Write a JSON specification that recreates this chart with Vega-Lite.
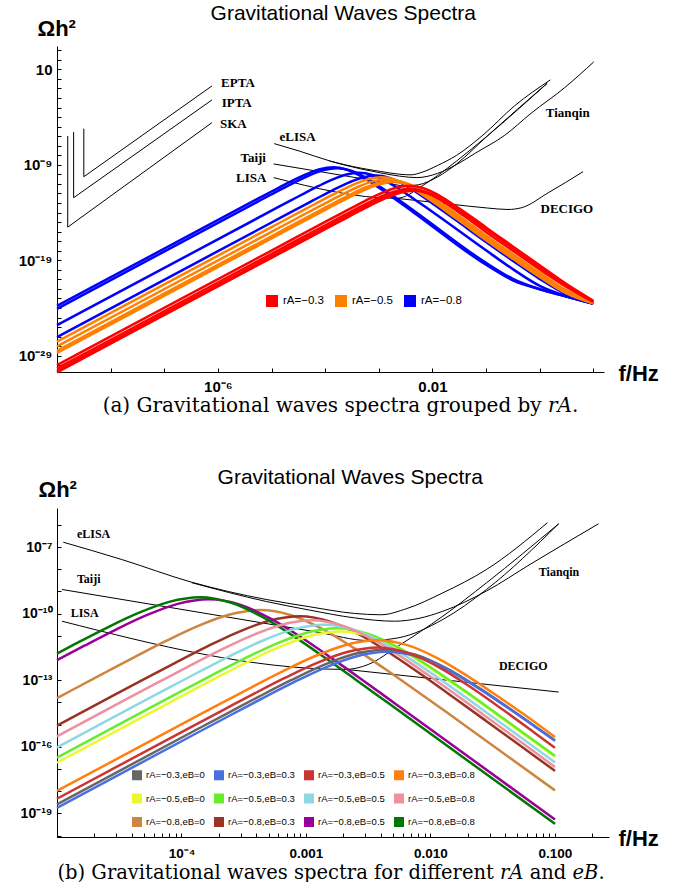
{
  "$schema": "https://vega.github.io/schema/vega-lite/v6.json",
  "background": "white",
  "padding": {"left": 18, "top": 3, "right": 0, "bottom": 0},
  "bounds": "flush",
  "spacing": 462,
  "resolve": {"scale": {"color": "independent"}, "legend": {"color": "independent"}},
  "config": {
    "view": {"stroke": null},
    "axis": {"grid": false, "domainColor": "black", "domainWidth": 1, "tickColor": "black", "tickWidth": 1, "labelColor": "black", "titleColor": "black", "labelFont": "Liberation Sans", "labelFontWeight": "bold", "titleFont": "Liberation Sans", "titleFontWeight": "bold", "titleFontSize": 22, "labelOverlap": false, "labelFlush": false},
    "title": {"font": "Liberation Sans", "fontWeight": "normal", "fontSize": 21, "color": "black"},
    "legend": {"title": null, "orient": "none", "direction": "horizontal", "symbolType": "square", "labelFont": "Liberation Sans", "labelColor": "black", "padding": 0, "symbolOpacity": 1}
  },
  "datasets": {
    "curves": [
      {"curve": "rA=−0.8,eB=0", "group": "rA=−0.8", "lf": -9, "lo": -25.806},
      {"curve": "rA=−0.8,eB=0", "group": "rA=−0.8", "lf": -5, "lo": -13.806},
      {"curve": "rA=−0.8,eB=0", "group": "rA=−0.8", "lf": -4.87, "lo": -13.416},
      {"curve": "rA=−0.8,eB=0", "group": "rA=−0.8", "lf": -4.62, "lo": -12.673},
      {"curve": "rA=−0.8,eB=0", "group": "rA=−0.8", "lf": -4.37, "lo": -11.934},
      {"curve": "rA=−0.8,eB=0", "group": "rA=−0.8", "lf": -4.12, "lo": -11.217},
      {"curve": "rA=−0.8,eB=0", "group": "rA=−0.8", "lf": -3.87, "lo": -10.559},
      {"curve": "rA=−0.8,eB=0", "group": "rA=−0.8", "lf": -3.62, "lo": -10.048},
      {"curve": "rA=−0.8,eB=0", "group": "rA=−0.8", "lf": -3.37, "lo": -9.84},
      {"curve": "rA=−0.8,eB=0", "group": "rA=−0.8", "lf": -3.12, "lo": -10.068},
      {"curve": "rA=−0.8,eB=0", "group": "rA=−0.8", "lf": -2.87, "lo": -10.686},
      {"curve": "rA=−0.8,eB=0", "group": "rA=−0.8", "lf": -2.62, "lo": -11.531},
      {"curve": "rA=−0.8,eB=0", "group": "rA=−0.8", "lf": -2.37, "lo": -12.473},
      {"curve": "rA=−0.8,eB=0", "group": "rA=−0.8", "lf": -2.12, "lo": -13.452},
      {"curve": "rA=−0.8,eB=0", "group": "rA=−0.8", "lf": -1.87, "lo": -14.442},
      {"curve": "rA=−0.8,eB=0", "group": "rA=−0.8", "lf": -1, "lo": -17.96},
      {"curve": "rA=−0.8,eB=0", "group": "rA=−0.8", "lf": -0.5, "lo": -19.93},
      {"curve": "rA=−0.8,eB=0", "group": "rA=−0.8", "lf": 0, "lo": -21.68},
      {"curve": "rA=−0.8,eB=0", "group": "rA=−0.8", "lf": 0.5, "lo": -22.768},
      {"curve": "rA=−0.8,eB=0", "group": "rA=−0.8", "lf": 1, "lo": -23.548},

      {"curve": "rA=−0.8,eB=0.3", "group": "rA=−0.8", "lf": -9, "lo": -27.046},
      {"curve": "rA=−0.8,eB=0.3", "group": "rA=−0.8", "lf": -5, "lo": -15.046},
      {"curve": "rA=−0.8,eB=0.3", "group": "rA=−0.8", "lf": -4.55, "lo": -13.696},
      {"curve": "rA=−0.8,eB=0.3", "group": "rA=−0.8", "lf": -4.3, "lo": -12.953},
      {"curve": "rA=−0.8,eB=0.3", "group": "rA=−0.8", "lf": -4.05, "lo": -12.214},
      {"curve": "rA=−0.8,eB=0.3", "group": "rA=−0.8", "lf": -3.8, "lo": -11.497},
      {"curve": "rA=−0.8,eB=0.3", "group": "rA=−0.8", "lf": -3.55, "lo": -10.839},
      {"curve": "rA=−0.8,eB=0.3", "group": "rA=−0.8", "lf": -3.3, "lo": -10.328},
      {"curve": "rA=−0.8,eB=0.3", "group": "rA=−0.8", "lf": -3.05, "lo": -10.12},
      {"curve": "rA=−0.8,eB=0.3", "group": "rA=−0.8", "lf": -2.8, "lo": -10.368},
      {"curve": "rA=−0.8,eB=0.3", "group": "rA=−0.8", "lf": -2.55, "lo": -11.006},
      {"curve": "rA=−0.8,eB=0.3", "group": "rA=−0.8", "lf": -2.3, "lo": -11.871},
      {"curve": "rA=−0.8,eB=0.3", "group": "rA=−0.8", "lf": -2.05, "lo": -12.833},
      {"curve": "rA=−0.8,eB=0.3", "group": "rA=−0.8", "lf": -1.8, "lo": -13.832},
      {"curve": "rA=−0.8,eB=0.3", "group": "rA=−0.8", "lf": -1.55, "lo": -14.842},
      {"curve": "rA=−0.8,eB=0.3", "group": "rA=−0.8", "lf": -1, "lo": -17.082},
      {"curve": "rA=−0.8,eB=0.3", "group": "rA=−0.8", "lf": -0.5, "lo": -19.05},
      {"curve": "rA=−0.8,eB=0.3", "group": "rA=−0.8", "lf": 0, "lo": -20.95},
      {"curve": "rA=−0.8,eB=0.3", "group": "rA=−0.8", "lf": 0.5, "lo": -22.58},
      {"curve": "rA=−0.8,eB=0.3", "group": "rA=−0.8", "lf": 1, "lo": -23.532},

      {"curve": "rA=−0.8,eB=0.5", "group": "rA=−0.8", "lf": -9, "lo": -24.086},
      {"curve": "rA=−0.8,eB=0.5", "group": "rA=−0.8", "lf": -5.28, "lo": -12.926},
      {"curve": "rA=−0.8,eB=0.5", "group": "rA=−0.8", "lf": -5.03, "lo": -12.183},
      {"curve": "rA=−0.8,eB=0.5", "group": "rA=−0.8", "lf": -5, "lo": -12.094},
      {"curve": "rA=−0.8,eB=0.5", "group": "rA=−0.8", "lf": -4.78, "lo": -11.444},
      {"curve": "rA=−0.8,eB=0.5", "group": "rA=−0.8", "lf": -4.53, "lo": -10.727},
      {"curve": "rA=−0.8,eB=0.5", "group": "rA=−0.8", "lf": -4.28, "lo": -10.069},
      {"curve": "rA=−0.8,eB=0.5", "group": "rA=−0.8", "lf": -4.03, "lo": -9.558},
      {"curve": "rA=−0.8,eB=0.5", "group": "rA=−0.8", "lf": -3.78, "lo": -9.35},
      {"curve": "rA=−0.8,eB=0.5", "group": "rA=−0.8", "lf": -3.53, "lo": -9.597},
      {"curve": "rA=−0.8,eB=0.5", "group": "rA=−0.8", "lf": -3.28, "lo": -10.234},
      {"curve": "rA=−0.8,eB=0.5", "group": "rA=−0.8", "lf": -3.03, "lo": -11.098},
      {"curve": "rA=−0.8,eB=0.5", "group": "rA=−0.8", "lf": -2.78, "lo": -12.059},
      {"curve": "rA=−0.8,eB=0.5", "group": "rA=−0.8", "lf": -2.53, "lo": -13.056},
      {"curve": "rA=−0.8,eB=0.5", "group": "rA=−0.8", "lf": -2.28, "lo": -14.065},
      {"curve": "rA=−0.8,eB=0.5", "group": "rA=−0.8", "lf": -1, "lo": -19.27},
      {"curve": "rA=−0.8,eB=0.5", "group": "rA=−0.8", "lf": -0.5, "lo": -20.95},
      {"curve": "rA=−0.8,eB=0.5", "group": "rA=−0.8", "lf": 0, "lo": -22.03},
      {"curve": "rA=−0.8,eB=0.5", "group": "rA=−0.8", "lf": 0.5, "lo": -22.798},
      {"curve": "rA=−0.8,eB=0.5", "group": "rA=−0.8", "lf": 1, "lo": -23.55},

      {"curve": "rA=−0.8,eB=0.8", "group": "rA=−0.8", "lf": -9, "lo": -23.786},
      {"curve": "rA=−0.8,eB=0.8", "group": "rA=−0.8", "lf": -5.35, "lo": -12.836},
      {"curve": "rA=−0.8,eB=0.8", "group": "rA=−0.8", "lf": -5.1, "lo": -12.093},
      {"curve": "rA=−0.8,eB=0.8", "group": "rA=−0.8", "lf": -5, "lo": -11.796},
      {"curve": "rA=−0.8,eB=0.8", "group": "rA=−0.8", "lf": -4.85, "lo": -11.354},
      {"curve": "rA=−0.8,eB=0.8", "group": "rA=−0.8", "lf": -4.6, "lo": -10.637},
      {"curve": "rA=−0.8,eB=0.8", "group": "rA=−0.8", "lf": -4.35, "lo": -9.979},
      {"curve": "rA=−0.8,eB=0.8", "group": "rA=−0.8", "lf": -4.1, "lo": -9.468},
      {"curve": "rA=−0.8,eB=0.8", "group": "rA=−0.8", "lf": -3.85, "lo": -9.26},
      {"curve": "rA=−0.8,eB=0.8", "group": "rA=−0.8", "lf": -3.6, "lo": -9.508},
      {"curve": "rA=−0.8,eB=0.8", "group": "rA=−0.8", "lf": -3.35, "lo": -10.146},
      {"curve": "rA=−0.8,eB=0.8", "group": "rA=−0.8", "lf": -3.1, "lo": -11.011},
      {"curve": "rA=−0.8,eB=0.8", "group": "rA=−0.8", "lf": -2.85, "lo": -11.974},
      {"curve": "rA=−0.8,eB=0.8", "group": "rA=−0.8", "lf": -2.6, "lo": -12.973},
      {"curve": "rA=−0.8,eB=0.8", "group": "rA=−0.8", "lf": -2.35, "lo": -13.983},
      {"curve": "rA=−0.8,eB=0.8", "group": "rA=−0.8", "lf": -1, "lo": -19.47},
      {"curve": "rA=−0.8,eB=0.8", "group": "rA=−0.8", "lf": -0.5, "lo": -21.1},
      {"curve": "rA=−0.8,eB=0.8", "group": "rA=−0.8", "lf": 0, "lo": -22.04},
      {"curve": "rA=−0.8,eB=0.8", "group": "rA=−0.8", "lf": 0.5, "lo": -22.799},
      {"curve": "rA=−0.8,eB=0.8", "group": "rA=−0.8", "lf": 1, "lo": -23.55},

      {"curve": "rA=−0.5,eB=0", "group": "rA=−0.5", "lf": -9, "lo": -28.716},
      {"curve": "rA=−0.5,eB=0", "group": "rA=−0.5", "lf": -5, "lo": -16.716},
      {"curve": "rA=−0.5,eB=0", "group": "rA=−0.5", "lf": -4.22, "lo": -14.376},
      {"curve": "rA=−0.5,eB=0", "group": "rA=−0.5", "lf": -3.97, "lo": -13.633},
      {"curve": "rA=−0.5,eB=0", "group": "rA=−0.5", "lf": -3.72, "lo": -12.894},
      {"curve": "rA=−0.5,eB=0", "group": "rA=−0.5", "lf": -3.47, "lo": -12.177},
      {"curve": "rA=−0.5,eB=0", "group": "rA=−0.5", "lf": -3.22, "lo": -11.519},
      {"curve": "rA=−0.5,eB=0", "group": "rA=−0.5", "lf": -2.97, "lo": -11.008},
      {"curve": "rA=−0.5,eB=0", "group": "rA=−0.5", "lf": -2.72, "lo": -10.8},
      {"curve": "rA=−0.5,eB=0", "group": "rA=−0.5", "lf": -2.47, "lo": -11.053},
      {"curve": "rA=−0.5,eB=0", "group": "rA=−0.5", "lf": -2.22, "lo": -11.695},
      {"curve": "rA=−0.5,eB=0", "group": "rA=−0.5", "lf": -1.97, "lo": -12.565},
      {"curve": "rA=−0.5,eB=0", "group": "rA=−0.5", "lf": -1.72, "lo": -13.532},
      {"curve": "rA=−0.5,eB=0", "group": "rA=−0.5", "lf": -1.47, "lo": -14.536},
      {"curve": "rA=−0.5,eB=0", "group": "rA=−0.5", "lf": -1.22, "lo": -15.55},
      {"curve": "rA=−0.5,eB=0", "group": "rA=−0.5", "lf": -1, "lo": -16.452},
      {"curve": "rA=−0.5,eB=0", "group": "rA=−0.5", "lf": -0.5, "lo": -18.4},
      {"curve": "rA=−0.5,eB=0", "group": "rA=−0.5", "lf": 0, "lo": -20.33},
      {"curve": "rA=−0.5,eB=0", "group": "rA=−0.5", "lf": 0.5, "lo": -22.18},
      {"curve": "rA=−0.5,eB=0", "group": "rA=−0.5", "lf": 1, "lo": -23.476},

      {"curve": "rA=−0.5,eB=0.3", "group": "rA=−0.5", "lf": -9, "lo": -28.486},
      {"curve": "rA=−0.5,eB=0.3", "group": "rA=−0.5", "lf": -5, "lo": -16.486},
      {"curve": "rA=−0.5,eB=0.3", "group": "rA=−0.5", "lf": -4.25, "lo": -14.236},
      {"curve": "rA=−0.5,eB=0.3", "group": "rA=−0.5", "lf": -4.0, "lo": -13.493},
      {"curve": "rA=−0.5,eB=0.3", "group": "rA=−0.5", "lf": -3.75, "lo": -12.754},
      {"curve": "rA=−0.5,eB=0.3", "group": "rA=−0.5", "lf": -3.5, "lo": -12.037},
      {"curve": "rA=−0.5,eB=0.3", "group": "rA=−0.5", "lf": -3.25, "lo": -11.379},
      {"curve": "rA=−0.5,eB=0.3", "group": "rA=−0.5", "lf": -3.0, "lo": -10.868},
      {"curve": "rA=−0.5,eB=0.3", "group": "rA=−0.5", "lf": -2.75, "lo": -10.66},
      {"curve": "rA=−0.5,eB=0.3", "group": "rA=−0.5", "lf": -2.5, "lo": -10.908},
      {"curve": "rA=−0.5,eB=0.3", "group": "rA=−0.5", "lf": -2.25, "lo": -11.546},
      {"curve": "rA=−0.5,eB=0.3", "group": "rA=−0.5", "lf": -2.0, "lo": -12.411},
      {"curve": "rA=−0.5,eB=0.3", "group": "rA=−0.5", "lf": -1.75, "lo": -13.373},
      {"curve": "rA=−0.5,eB=0.3", "group": "rA=−0.5", "lf": -1.5, "lo": -14.372},
      {"curve": "rA=−0.5,eB=0.3", "group": "rA=−0.5", "lf": -1.25, "lo": -15.382},
      {"curve": "rA=−0.5,eB=0.3", "group": "rA=−0.5", "lf": -1, "lo": -16.402},
      {"curve": "rA=−0.5,eB=0.3", "group": "rA=−0.5", "lf": -0.5, "lo": -18.37},
      {"curve": "rA=−0.5,eB=0.3", "group": "rA=−0.5", "lf": 0, "lo": -20.3},
      {"curve": "rA=−0.5,eB=0.3", "group": "rA=−0.5", "lf": 0.5, "lo": -22.16},
      {"curve": "rA=−0.5,eB=0.3", "group": "rA=−0.5", "lf": 1, "lo": -23.473},

      {"curve": "rA=−0.5,eB=0.5", "group": "rA=−0.5", "lf": -9, "lo": -28.026},
      {"curve": "rA=−0.5,eB=0.5", "group": "rA=−0.5", "lf": -5, "lo": -16.026},
      {"curve": "rA=−0.5,eB=0.5", "group": "rA=−0.5", "lf": -4.35, "lo": -14.076},
      {"curve": "rA=−0.5,eB=0.5", "group": "rA=−0.5", "lf": -4.1, "lo": -13.333},
      {"curve": "rA=−0.5,eB=0.5", "group": "rA=−0.5", "lf": -3.85, "lo": -12.594},
      {"curve": "rA=−0.5,eB=0.5", "group": "rA=−0.5", "lf": -3.6, "lo": -11.877},
      {"curve": "rA=−0.5,eB=0.5", "group": "rA=−0.5", "lf": -3.35, "lo": -11.219},
      {"curve": "rA=−0.5,eB=0.5", "group": "rA=−0.5", "lf": -3.1, "lo": -10.708},
      {"curve": "rA=−0.5,eB=0.5", "group": "rA=−0.5", "lf": -2.85, "lo": -10.5},
      {"curve": "rA=−0.5,eB=0.5", "group": "rA=−0.5", "lf": -2.6, "lo": -10.755},
      {"curve": "rA=−0.5,eB=0.5", "group": "rA=−0.5", "lf": -2.35, "lo": -11.4},
      {"curve": "rA=−0.5,eB=0.5", "group": "rA=−0.5", "lf": -2.1, "lo": -12.272},
      {"curve": "rA=−0.5,eB=0.5", "group": "rA=−0.5", "lf": -1.85, "lo": -13.241},
      {"curve": "rA=−0.5,eB=0.5", "group": "rA=−0.5", "lf": -1.6, "lo": -14.247},
      {"curve": "rA=−0.5,eB=0.5", "group": "rA=−0.5", "lf": -1.35, "lo": -15.264},
      {"curve": "rA=−0.5,eB=0.5", "group": "rA=−0.5", "lf": -1, "lo": -16.702},
      {"curve": "rA=−0.5,eB=0.5", "group": "rA=−0.5", "lf": -0.5, "lo": -18.65},
      {"curve": "rA=−0.5,eB=0.5", "group": "rA=−0.5", "lf": 0, "lo": -20.56},
      {"curve": "rA=−0.5,eB=0.5", "group": "rA=−0.5", "lf": 0.5, "lo": -22.34},
      {"curve": "rA=−0.5,eB=0.5", "group": "rA=−0.5", "lf": 1, "lo": -23.504},

      {"curve": "rA=−0.5,eB=0.8", "group": "rA=−0.5", "lf": -9, "lo": -27.526},
      {"curve": "rA=−0.5,eB=0.8", "group": "rA=−0.5", "lf": -5, "lo": -15.526},
      {"curve": "rA=−0.5,eB=0.8", "group": "rA=−0.5", "lf": -4.45, "lo": -13.876},
      {"curve": "rA=−0.5,eB=0.8", "group": "rA=−0.5", "lf": -4.2, "lo": -13.133},
      {"curve": "rA=−0.5,eB=0.8", "group": "rA=−0.5", "lf": -3.95, "lo": -12.394},
      {"curve": "rA=−0.5,eB=0.8", "group": "rA=−0.5", "lf": -3.7, "lo": -11.677},
      {"curve": "rA=−0.5,eB=0.8", "group": "rA=−0.5", "lf": -3.45, "lo": -11.019},
      {"curve": "rA=−0.5,eB=0.8", "group": "rA=−0.5", "lf": -3.2, "lo": -10.508},
      {"curve": "rA=−0.5,eB=0.8", "group": "rA=−0.5", "lf": -2.95, "lo": -10.3},
      {"curve": "rA=−0.5,eB=0.8", "group": "rA=−0.5", "lf": -2.7, "lo": -10.554},
      {"curve": "rA=−0.5,eB=0.8", "group": "rA=−0.5", "lf": -2.45, "lo": -11.197},
      {"curve": "rA=−0.5,eB=0.8", "group": "rA=−0.5", "lf": -2.2, "lo": -12.068},
      {"curve": "rA=−0.5,eB=0.8", "group": "rA=−0.5", "lf": -1.95, "lo": -13.036},
      {"curve": "rA=−0.5,eB=0.8", "group": "rA=−0.5", "lf": -1.7, "lo": -14.04},
      {"curve": "rA=−0.5,eB=0.8", "group": "rA=−0.5", "lf": -1.45, "lo": -15.056},
      {"curve": "rA=−0.5,eB=0.8", "group": "rA=−0.5", "lf": -1, "lo": -16.902},
      {"curve": "rA=−0.5,eB=0.8", "group": "rA=−0.5", "lf": -0.5, "lo": -18.85},
      {"curve": "rA=−0.5,eB=0.8", "group": "rA=−0.5", "lf": 0, "lo": -20.75},
      {"curve": "rA=−0.5,eB=0.8", "group": "rA=−0.5", "lf": 0.5, "lo": -22.47},
      {"curve": "rA=−0.5,eB=0.8", "group": "rA=−0.5", "lf": 1, "lo": -23.52},

      {"curve": "rA=−0.3,eB=0", "group": "rA=−0.3", "lf": -9, "lo": -30.586},
      {"curve": "rA=−0.3,eB=0", "group": "rA=−0.3", "lf": -5, "lo": -18.586},
      {"curve": "rA=−0.3,eB=0", "group": "rA=−0.3", "lf": -3.87, "lo": -15.196},
      {"curve": "rA=−0.3,eB=0", "group": "rA=−0.3", "lf": -3.62, "lo": -14.453},
      {"curve": "rA=−0.3,eB=0", "group": "rA=−0.3", "lf": -3.37, "lo": -13.714},
      {"curve": "rA=−0.3,eB=0", "group": "rA=−0.3", "lf": -3.12, "lo": -12.997},
      {"curve": "rA=−0.3,eB=0", "group": "rA=−0.3", "lf": -2.87, "lo": -12.339},
      {"curve": "rA=−0.3,eB=0", "group": "rA=−0.3", "lf": -2.62, "lo": -11.828},
      {"curve": "rA=−0.3,eB=0", "group": "rA=−0.3", "lf": -2.37, "lo": -11.62},
      {"curve": "rA=−0.3,eB=0", "group": "rA=−0.3", "lf": -2.12, "lo": -11.848},
      {"curve": "rA=−0.3,eB=0", "group": "rA=−0.3", "lf": -1.87, "lo": -12.466},
      {"curve": "rA=−0.3,eB=0", "group": "rA=−0.3", "lf": -1.62, "lo": -13.311},
      {"curve": "rA=−0.3,eB=0", "group": "rA=−0.3", "lf": -1.37, "lo": -14.253},
      {"curve": "rA=−0.3,eB=0", "group": "rA=−0.3", "lf": -1.12, "lo": -15.232},
      {"curve": "rA=−0.3,eB=0", "group": "rA=−0.3", "lf": -1, "lo": -15.707},
      {"curve": "rA=−0.3,eB=0", "group": "rA=−0.3", "lf": -0.5, "lo": -17.7},
      {"curve": "rA=−0.3,eB=0", "group": "rA=−0.3", "lf": 0, "lo": -19.7},
      {"curve": "rA=−0.3,eB=0", "group": "rA=−0.3", "lf": 0.5, "lo": -21.67},
      {"curve": "rA=−0.3,eB=0", "group": "rA=−0.3", "lf": 1, "lo": -23.32},

      {"curve": "rA=−0.3,eB=0.3", "group": "rA=−0.3", "lf": -9, "lo": -30.746},
      {"curve": "rA=−0.3,eB=0.3", "group": "rA=−0.3", "lf": -5, "lo": -18.746},
      {"curve": "rA=−0.3,eB=0.3", "group": "rA=−0.3", "lf": -3.85, "lo": -15.296},
      {"curve": "rA=−0.3,eB=0.3", "group": "rA=−0.3", "lf": -3.6, "lo": -14.553},
      {"curve": "rA=−0.3,eB=0.3", "group": "rA=−0.3", "lf": -3.35, "lo": -13.814},
      {"curve": "rA=−0.3,eB=0.3", "group": "rA=−0.3", "lf": -3.1, "lo": -13.097},
      {"curve": "rA=−0.3,eB=0.3", "group": "rA=−0.3", "lf": -2.85, "lo": -12.439},
      {"curve": "rA=−0.3,eB=0.3", "group": "rA=−0.3", "lf": -2.6, "lo": -11.928},
      {"curve": "rA=−0.3,eB=0.3", "group": "rA=−0.3", "lf": -2.35, "lo": -11.72},
      {"curve": "rA=−0.3,eB=0.3", "group": "rA=−0.3", "lf": -2.1, "lo": -11.948},
      {"curve": "rA=−0.3,eB=0.3", "group": "rA=−0.3", "lf": -1.85, "lo": -12.566},
      {"curve": "rA=−0.3,eB=0.3", "group": "rA=−0.3", "lf": -1.6, "lo": -13.411},
      {"curve": "rA=−0.3,eB=0.3", "group": "rA=−0.3", "lf": -1.35, "lo": -14.353},
      {"curve": "rA=−0.3,eB=0.3", "group": "rA=−0.3", "lf": -1.1, "lo": -15.332},
      {"curve": "rA=−0.3,eB=0.3", "group": "rA=−0.3", "lf": -1, "lo": -15.728},
      {"curve": "rA=−0.3,eB=0.3", "group": "rA=−0.3", "lf": -0.5, "lo": -17.722},
      {"curve": "rA=−0.3,eB=0.3", "group": "rA=−0.3", "lf": 0, "lo": -19.72},
      {"curve": "rA=−0.3,eB=0.3", "group": "rA=−0.3", "lf": 0.5, "lo": -21.69},
      {"curve": "rA=−0.3,eB=0.3", "group": "rA=−0.3", "lf": 1, "lo": -23.33},

      {"curve": "rA=−0.3,eB=0.5", "group": "rA=−0.3", "lf": -9, "lo": -30.336},
      {"curve": "rA=−0.3,eB=0.5", "group": "rA=−0.3", "lf": -5, "lo": -18.336},
      {"curve": "rA=−0.3,eB=0.5", "group": "rA=−0.3", "lf": -3.92, "lo": -15.096},
      {"curve": "rA=−0.3,eB=0.5", "group": "rA=−0.3", "lf": -3.67, "lo": -14.353},
      {"curve": "rA=−0.3,eB=0.5", "group": "rA=−0.3", "lf": -3.42, "lo": -13.614},
      {"curve": "rA=−0.3,eB=0.5", "group": "rA=−0.3", "lf": -3.17, "lo": -12.897},
      {"curve": "rA=−0.3,eB=0.5", "group": "rA=−0.3", "lf": -2.92, "lo": -12.239},
      {"curve": "rA=−0.3,eB=0.5", "group": "rA=−0.3", "lf": -2.67, "lo": -11.728},
      {"curve": "rA=−0.3,eB=0.5", "group": "rA=−0.3", "lf": -2.42, "lo": -11.52},
      {"curve": "rA=−0.3,eB=0.5", "group": "rA=−0.3", "lf": -2.17, "lo": -11.789},
      {"curve": "rA=−0.3,eB=0.5", "group": "rA=−0.3", "lf": -1.92, "lo": -12.449},
      {"curve": "rA=−0.3,eB=0.5", "group": "rA=−0.3", "lf": -1.67, "lo": -13.335},
      {"curve": "rA=−0.3,eB=0.5", "group": "rA=−0.3", "lf": -1.42, "lo": -14.318},
      {"curve": "rA=−0.3,eB=0.5", "group": "rA=−0.3", "lf": -1.17, "lo": -15.339},
      {"curve": "rA=−0.3,eB=0.5", "group": "rA=−0.3", "lf": -1, "lo": -16.04},
      {"curve": "rA=−0.3,eB=0.5", "group": "rA=−0.3", "lf": -0.5, "lo": -18.0},
      {"curve": "rA=−0.3,eB=0.5", "group": "rA=−0.3", "lf": 0, "lo": -19.95},
      {"curve": "rA=−0.3,eB=0.5", "group": "rA=−0.3", "lf": 0.5, "lo": -21.8},
      {"curve": "rA=−0.3,eB=0.5", "group": "rA=−0.3", "lf": 1, "lo": -23.36},

      {"curve": "rA=−0.3,eB=0.8", "group": "rA=−0.3", "lf": -9, "lo": -29.986},
      {"curve": "rA=−0.3,eB=0.8", "group": "rA=−0.3", "lf": -5, "lo": -17.986},
      {"curve": "rA=−0.3,eB=0.8", "group": "rA=−0.3", "lf": -3.93, "lo": -14.776},
      {"curve": "rA=−0.3,eB=0.8", "group": "rA=−0.3", "lf": -3.68, "lo": -14.033},
      {"curve": "rA=−0.3,eB=0.8", "group": "rA=−0.3", "lf": -3.43, "lo": -13.294},
      {"curve": "rA=−0.3,eB=0.8", "group": "rA=−0.3", "lf": -3.18, "lo": -12.577},
      {"curve": "rA=−0.3,eB=0.8", "group": "rA=−0.3", "lf": -2.93, "lo": -11.919},
      {"curve": "rA=−0.3,eB=0.8", "group": "rA=−0.3", "lf": -2.68, "lo": -11.408},
      {"curve": "rA=−0.3,eB=0.8", "group": "rA=−0.3", "lf": -2.43, "lo": -11.2},
      {"curve": "rA=−0.3,eB=0.8", "group": "rA=−0.3", "lf": -2.18, "lo": -11.428},
      {"curve": "rA=−0.3,eB=0.8", "group": "rA=−0.3", "lf": -1.93, "lo": -12.046},
      {"curve": "rA=−0.3,eB=0.8", "group": "rA=−0.3", "lf": -1.68, "lo": -12.891},
      {"curve": "rA=−0.3,eB=0.8", "group": "rA=−0.3", "lf": -1.43, "lo": -13.833},
      {"curve": "rA=−0.3,eB=0.8", "group": "rA=−0.3", "lf": -1.18, "lo": -14.812},
      {"curve": "rA=−0.3,eB=0.8", "group": "rA=−0.3", "lf": -1, "lo": -15.56},
      {"curve": "rA=−0.3,eB=0.8", "group": "rA=−0.3", "lf": -0.5, "lo": -17.55},
      {"curve": "rA=−0.3,eB=0.8", "group": "rA=−0.3", "lf": 0, "lo": -19.53},
      {"curve": "rA=−0.3,eB=0.8", "group": "rA=−0.3", "lf": 0.5, "lo": -21.5},
      {"curve": "rA=−0.3,eB=0.8", "group": "rA=−0.3", "lf": 1, "lo": -23.24}
    ],
    "sensA": [
      {"det": "eLISA", "lf": -4.95, "lo": -6.78}, {"det": "eLISA", "lf": -4.48, "lo": -7.56}, {"det": "eLISA", "lf": -3.92, "lo": -8.58}, {"det": "eLISA", "lf": -3.32, "lo": -9.36}, {"det": "eLISA", "lf": -2.97, "lo": -9.69}, {"det": "eLISA", "lf": -2.61, "lo": -9.99}, {"det": "eLISA", "lf": -2.4, "lo": -10.05}, {"det": "eLISA", "lf": -2.19, "lo": -9.77}, {"det": "eLISA", "lf": -1.9, "lo": -9.06}, {"det": "eLISA", "lf": -1.55, "lo": -8.01}, {"det": "eLISA", "lf": -1.06, "lo": -5.9}, {"det": "eLISA", "lf": -0.47, "lo": -2.83}, {"det": "eLISA", "lf": 0.2, "lo": -0.1},
      {"det": "Tianqin", "lf": -3.92, "lo": -8.6}, {"det": "Tianqin", "lf": -3.32, "lo": -9.45}, {"det": "Tianqin", "lf": -2.97, "lo": -9.84}, {"det": "Tianqin", "lf": -2.61, "lo": -10.19}, {"det": "Tianqin", "lf": -2.29, "lo": -10.34}, {"det": "Tianqin", "lf": -2.1, "lo": -10.22}, {"det": "Tianqin", "lf": -1.9, "lo": -9.89}, {"det": "Tianqin", "lf": -1.55, "lo": -8.98}, {"det": "Tianqin", "lf": -1.2, "lo": -7.78}, {"det": "Tianqin", "lf": -0.65, "lo": -5.9}, {"det": "Tianqin", "lf": -0.16, "lo": -3.6}, {"det": "Tianqin", "lf": 0.47, "lo": -0.9}, {"det": "Tianqin", "lf": 1.01, "lo": 1.79},
      {"det": "Taiji", "lf": -4.96, "lo": -8.91}, {"det": "Taiji", "lf": -3.74, "lo": -10.05}, {"det": "Taiji", "lf": -2.9, "lo": -10.84}, {"det": "Taiji", "lf": -2.5, "lo": -11.21}, {"det": "Taiji", "lf": -2.26, "lo": -11.09}, {"det": "Taiji", "lf": -1.9, "lo": -10.26}, {"det": "Taiji", "lf": -1.55, "lo": -8.91}, {"det": "Taiji", "lf": -0.97, "lo": -5.95}, {"det": "Taiji", "lf": 0.14, "lo": -0.46},
      {"det": "LISA", "lf": -4.96, "lo": -10.34}, {"det": "LISA", "lf": -2.68, "lo": -12.51}, {"det": "LISA", "lf": -2.5, "lo": -12.29}, {"det": "LISA", "lf": -2.26, "lo": -11.46}, {"det": "LISA", "lf": -1.9, "lo": -10.11}, {"det": "LISA", "lf": -1.55, "lo": -8.61}, {"det": "LISA", "lf": -0.97, "lo": -5.95}, {"det": "LISA", "lf": 0.14, "lo": -0.46},
      {"det": "DECIGO", "lf": -2.68, "lo": -12.51}, {"det": "DECIGO", "lf": -1.71, "lo": -13.09}, {"det": "DECIGO", "lf": -0.97, "lo": -13.53}, {"det": "DECIGO", "lf": -0.59, "lo": -13.68}, {"det": "DECIGO", "lf": -0.34, "lo": -13.5}, {"det": "DECIGO", "lf": 0.16, "lo": -11.93}, {"det": "DECIGO", "lf": 0.81, "lo": -9.72}
    ],
    "sensB": [
      {"det": "eLISA", "lf": -4.95, "lo": -6.78}, {"det": "eLISA", "lf": -4.48, "lo": -7.56}, {"det": "eLISA", "lf": -3.92, "lo": -8.58}, {"det": "eLISA", "lf": -3.32, "lo": -9.36}, {"det": "eLISA", "lf": -2.97, "lo": -9.69}, {"det": "eLISA", "lf": -2.61, "lo": -9.99}, {"det": "eLISA", "lf": -2.4, "lo": -10.05}, {"det": "eLISA", "lf": -2.19, "lo": -9.77}, {"det": "eLISA", "lf": -1.9, "lo": -9.06}, {"det": "eLISA", "lf": -1.55, "lo": -8.01}, {"det": "eLISA", "lf": -1.06, "lo": -5.9},
      {"det": "Tianqin", "lf": -3.92, "lo": -8.6}, {"det": "Tianqin", "lf": -3.32, "lo": -9.45}, {"det": "Tianqin", "lf": -2.97, "lo": -9.84}, {"det": "Tianqin", "lf": -2.61, "lo": -10.19}, {"det": "Tianqin", "lf": -2.29, "lo": -10.34}, {"det": "Tianqin", "lf": -2.1, "lo": -10.22}, {"det": "Tianqin", "lf": -1.9, "lo": -9.89}, {"det": "Tianqin", "lf": -1.55, "lo": -8.98}, {"det": "Tianqin", "lf": -1.2, "lo": -7.78}, {"det": "Tianqin", "lf": -0.65, "lo": -5.95},
      {"det": "Taiji", "lf": -4.96, "lo": -8.91}, {"det": "Taiji", "lf": -3.74, "lo": -10.05}, {"det": "Taiji", "lf": -2.9, "lo": -10.84}, {"det": "Taiji", "lf": -2.5, "lo": -11.21}, {"det": "Taiji", "lf": -2.26, "lo": -11.09}, {"det": "Taiji", "lf": -1.9, "lo": -10.26}, {"det": "Taiji", "lf": -1.55, "lo": -8.91}, {"det": "Taiji", "lf": -0.97, "lo": -5.95},
      {"det": "LISA", "lf": -4.96, "lo": -10.34}, {"det": "LISA", "lf": -2.68, "lo": -12.51}, {"det": "LISA", "lf": -2.5, "lo": -12.29}, {"det": "LISA", "lf": -2.26, "lo": -11.46}, {"det": "LISA", "lf": -1.9, "lo": -10.11}, {"det": "LISA", "lf": -1.55, "lo": -8.61}, {"det": "LISA", "lf": -0.97, "lo": -5.95},
      {"det": "DECIGO", "lf": -2.68, "lo": -12.51}, {"det": "DECIGO", "lf": -1.71, "lo": -13.09}, {"det": "DECIGO", "lf": -0.97, "lo": -13.53}
    ],
    "ptaA": [
      {"det": "EPTA", "i": 0, "lf": -8.5, "lo": -5.21}, {"det": "EPTA", "i": 1, "lf": -8.5, "lo": -10.25}, {"det": "EPTA", "i": 2, "lf": -6.11, "lo": -0.73},
      {"det": "IPTA", "i": 0, "lf": -8.69, "lo": -5.56}, {"det": "IPTA", "i": 1, "lf": -8.69, "lo": -12.45}, {"det": "IPTA", "i": 2, "lf": -6.11, "lo": -2.2},
      {"det": "SKA", "i": 0, "lf": -8.8, "lo": -5.98}, {"det": "SKA", "i": 1, "lf": -8.8, "lo": -15.53}, {"det": "SKA", "i": 2, "lf": -6.11, "lo": -4.58}
    ],
    "labelsA": [
      {"label": "EPTA", "lf": -5.94, "lo": -0.46}, {"label": "IPTA", "lf": -5.93, "lo": -2.48}, {"label": "SKA", "lf": -5.96, "lo": -4.76},
      {"label": "eLISA", "lf": -4.85, "lo": -6.08}, {"label": "Taiji", "lf": -5.58, "lo": -8.25}, {"label": "LISA", "lf": -5.66, "lo": -10.35},
      {"label": "Tianqin", "lf": 0.115, "lo": -3.62}, {"label": "DECIGO", "lf": 0.016, "lo": -13.58}
    ],
    "labelsB": [
      {"label": "eLISA", "lf": -4.84, "lo": -6.43}, {"label": "Taiji", "lf": -4.84, "lo": -8.46}, {"label": "LISA", "lf": -4.89, "lo": -9.96},
      {"label": "Tianqin", "lf": -1.13, "lo": -8.11}, {"label": "DECIGO", "lf": -1.45, "lo": -12.36}
    ]
  },
  "vconcat": [
    {
      "title": {"text": "Gravitational Waves Spectra", "anchor": "middle", "dx": 5, "offset": -24.1, "baseline": "alphabetic"},
      "bounds": "flush",
      "vconcat": [
        {
          "width": 547,
          "height": 326,
          "title": {"text": "(a) Gravitational waves spectra grouped by 𝑟𝐴.", "orient": "bottom", "font": "DejaVu Serif", "fontSize": 20, "fontWeight": "normal", "anchor": "middle", "dx": 10, "offset": 2, "baseline": "top"},
          "encoding": {
            "x": {"field": "lf", "type": "quantitative", "scale": {"domain": [-9, 1.2], "nice": false, "zero": false},
              "axis": {"values": [-9, -8, -7, -6, -5, -4, -3, -2, -1, 0, 1], "labelExpr": "datum.value == -6 ? '10⁻⁶' : datum.value == -2 ? '0.01' : ''", "labelFontSize": 15, "tickSize": -4, "labelPadding": 11, "title": "f/Hz", "titleX": 561, "titleY": 8, "titleAlign": "left", "titleBaseline": "alphabetic", "titleAngle": 0}},
            "y": {"field": "lo", "type": "quantitative", "scale": {"domain": [-30.71, 3.45], "nice": false, "zero": false},
              "axis": {"values": [-30, -29, -28, -27, -26, -25, -24, -23, -22, -21, -20, -19, -18, -17, -16, -15, -14, -13, -12, -11, -10, -9, -8, -7, -6, -5, -4, -3, -2, -1, 0, 1, 2, 3], "labelExpr": "datum.value == 1 ? '10' : datum.value == -9 ? '10⁻⁹' : datum.value == -19 ? '10⁻¹⁹' : datum.value == -29 ? '10⁻²⁹' : ''", "labelFontSize": 15, "tickSize": -4, "labelPadding": 9, "title": "Ωh²", "titleAngle": 0, "titleX": -20, "titleY": -11, "titleAlign": "left", "titleBaseline": "alphabetic"}}
          },
          "layer": [
            {"data": {"name": "sensA"}, "mark": {"type": "line", "interpolate": "monotone", "color": "black", "strokeWidth": 1}, "encoding": {"detail": {"field": "det"}}},
            {"data": {"name": "ptaA"}, "mark": {"type": "line", "color": "black", "strokeWidth": 1}, "encoding": {"detail": {"field": "det"}, "order": {"field": "i"}}},
            {"data": {"name": "curves"}, "mark": {"type": "line", "interpolate": "monotone", "strokeWidth": 2.5},
              "encoding": {
                "color": {"field": "group", "type": "nominal", "scale": {"domain": ["rA=−0.3", "rA=−0.5", "rA=−0.8"], "range": ["#FF0000", "#FF8000", "#0000FF"]},
                  "legend": {"legendX": 209, "legendY": 249, "symbolSize": 36, "symbolStrokeWidth": 6, "labelFontSize": 11.5, "columnPadding": 2, "labelOffset": 5}},
                "detail": {"field": "curve"}}},
            {"data": {"name": "labelsA"}, "mark": {"type": "text", "align": "left", "baseline": "middle", "font": "Liberation Serif", "fontWeight": "bold", "fontSize": 13, "color": "black"}, "encoding": {"text": {"field": "label"}}}
          ]
        }
      ]
    },
    {
      "title": {"text": "Gravitational Waves Spectra", "anchor": "middle", "dx": 11, "offset": -27, "baseline": "alphabetic"},
      "bounds": "flush",
      "vconcat": [
        {
          "width": 552,
          "height": 329,
          "title": {"text": "(b) Gravitational waves spectra for different 𝑟𝐴 and 𝑒𝐵.", "orient": "bottom", "font": "DejaVu Serif", "fontSize": 19.5, "fontWeight": "normal", "anchor": "middle", "dx": -2, "offset": 4, "baseline": "top"},
          "encoding": {
            "x": {"field": "lf", "type": "quantitative", "scale": {"domain": [-5, -0.566], "nice": false, "zero": false},
              "axis": {"values": [-5, -4.699, -4.523, -4.398, -4.301, -4.222, -4.155, -4.097, -4.046, -4, -3.699, -3.523, -3.398, -3.301, -3.222, -3.155, -3.097, -3.046, -3, -2.699, -2.523, -2.398, -2.301, -2.222, -2.155, -2.097, -2.046, -2, -1.699, -1.523, -1.398, -1.301, -1.222, -1.155, -1.097, -1.046, -1, -0.699],
                "labelExpr": "datum.value == -4 ? '10⁻⁴' : datum.value == -3 ? '0.001' : datum.value == -2 ? '0.010' : datum.value == -1 ? '0.100' : ''", "labelFontSize": 13.5, "tickSize": -4, "labelPadding": 13, "title": "f/Hz", "titleX": 561, "titleY": 8, "titleAlign": "left", "titleBaseline": "alphabetic", "titleAngle": 0}},
            "y": {"field": "lo", "type": "quantitative", "scale": {"domain": [-20.06, -5.24], "nice": false, "zero": false},
              "axis": {"values": [-20, -19, -18, -17, -16, -15, -14, -13, -12, -11, -10, -9, -8, -7, -6], "labelExpr": "datum.value == -7 ? '10⁻⁷' : datum.value == -10 ? '10⁻¹⁰' : datum.value == -13 ? '10⁻¹³' : datum.value == -16 ? '10⁻¹⁶' : datum.value == -19 ? '10⁻¹⁹' : ''", "labelFontSize": 14, "tickSize": -4, "labelPadding": 9, "title": "Ωh²", "titleAngle": 0, "titleX": -19, "titleY": -12, "titleAlign": "left", "titleBaseline": "alphabetic"}}
          },
          "layer": [
            {"data": {"name": "sensB"}, "mark": {"type": "line", "interpolate": "monotone", "color": "black", "strokeWidth": 1}, "encoding": {"detail": {"field": "det"}}},
            {"data": {"name": "curves"}, "transform": [{"filter": "datum.lf >= -5 && datum.lf <= -1"}], "mark": {"type": "line", "interpolate": "monotone", "strokeWidth": 2.5},
              "encoding": {
                "color": {"field": "curve", "type": "nominal",
                  "scale": {"domain": ["rA=−0.3,eB=0", "rA=−0.3,eB=0.3", "rA=−0.3,eB=0.5", "rA=−0.3,eB=0.8", "rA=−0.5,eB=0", "rA=−0.5,eB=0.3", "rA=−0.5,eB=0.5", "rA=−0.5,eB=0.8", "rA=−0.8,eB=0", "rA=−0.8,eB=0.3", "rA=−0.8,eB=0.5", "rA=−0.8,eB=0.8"],
                    "range": ["#666666", "#4A6FE3", "#CC3333", "#FF8010", "#EAF82C", "#66EE2B", "#8CD9E4", "#EE909E", "#CD853F", "#993322", "#990099", "#007700"]},
                  "legend": {"columns": 4, "legendX": 75, "legendY": 262, "symbolSize": 25, "symbolStrokeWidth": 5, "labelFontSize": 9.5, "columnPadding": 1, "rowPadding": -2.5, "labelOffset": 4}}}},
            {"data": {"name": "labelsB"}, "mark": {"type": "text", "align": "left", "baseline": "middle", "font": "Liberation Serif", "fontWeight": "bold", "fontSize": 12, "color": "black"}, "encoding": {"text": {"field": "label"}}}
          ]
        }
      ]
    }
  ]
}
